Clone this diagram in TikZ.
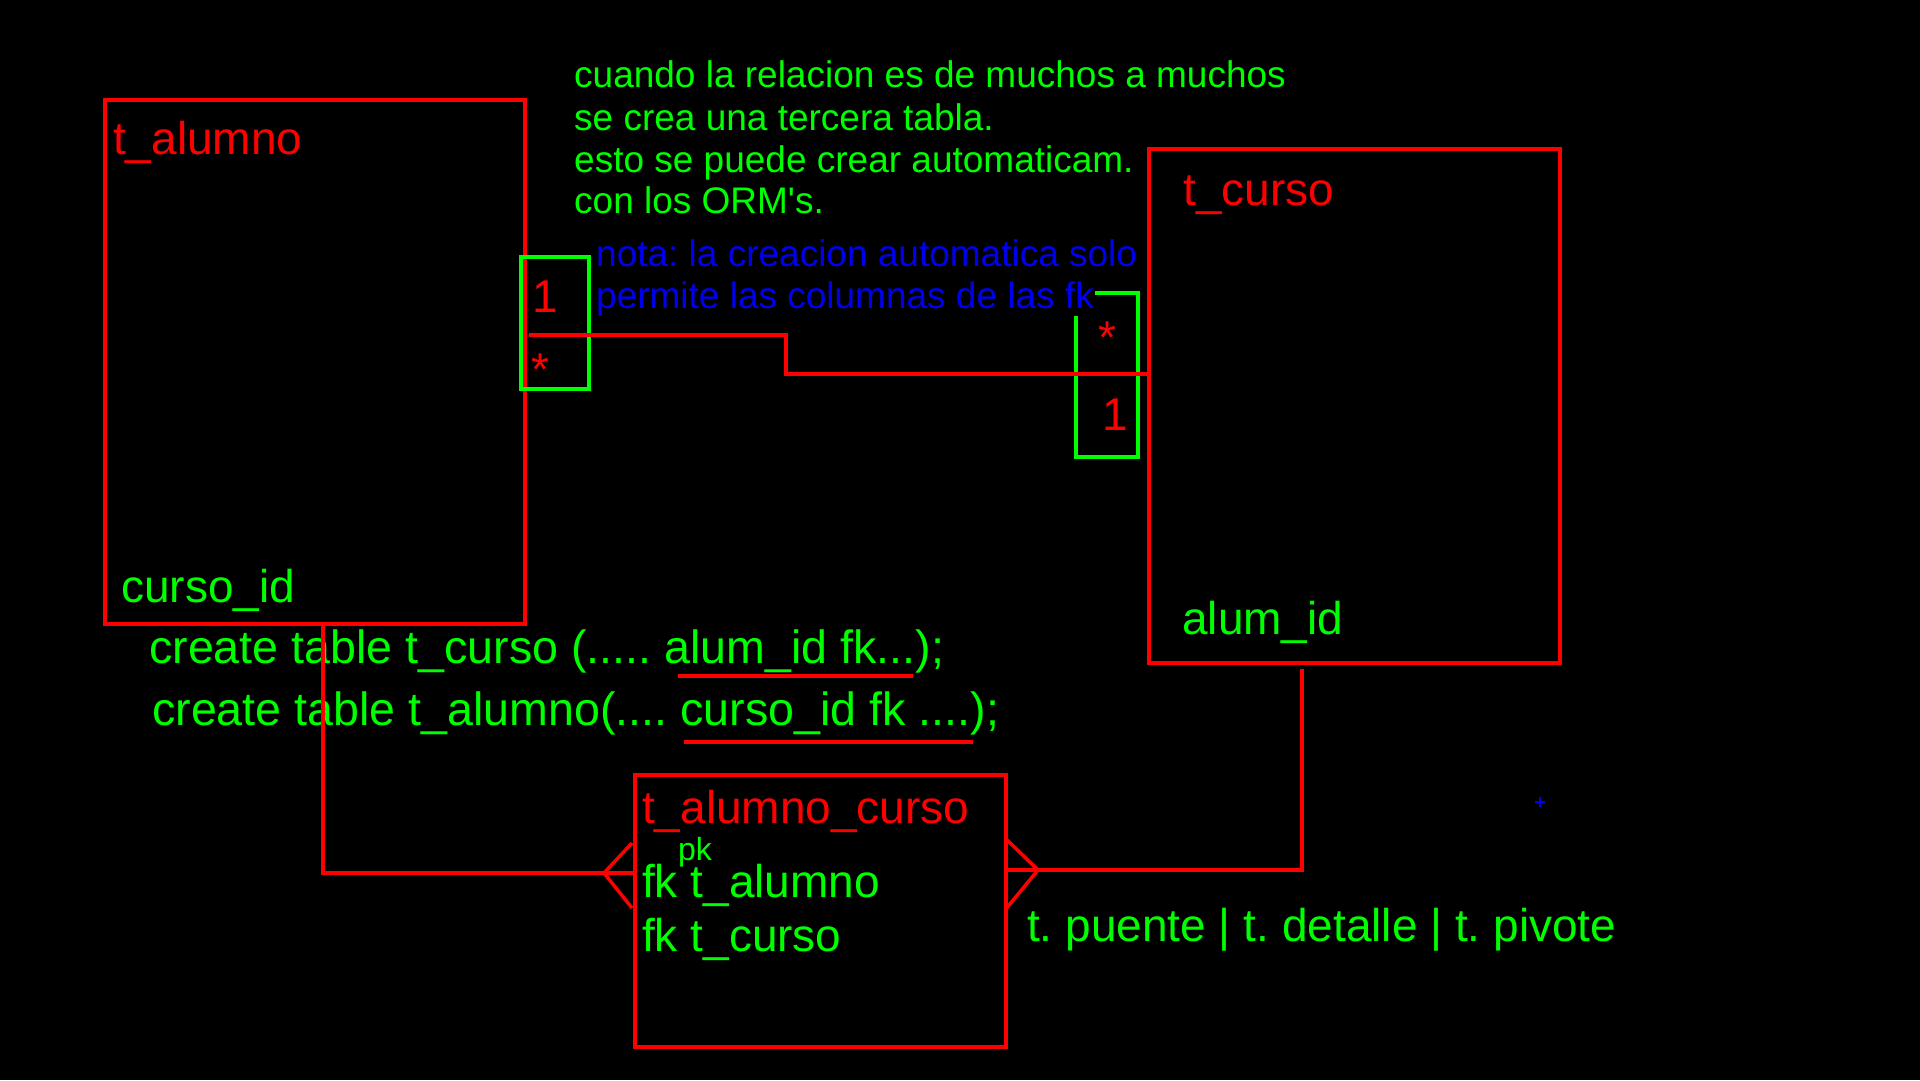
\documentclass[tikz,border=0pt]{standalone}
\usepackage{fontspec}
\setmainfont{Liberation Sans}[Ligatures=TeXOff]
\definecolor{ered}{RGB}{255,0,0}
\definecolor{egreen}{RGB}{0,255,0}
\definecolor{eblue}{RGB}{0,0,240}
\frenchspacing
\begin{document}
\begin{tikzpicture}[x=1pt,y=-1pt,
  tbl/.style={draw=ered, line width=4pt, inner sep=0pt, anchor=north west},
  card/.style={draw=egreen, line width=4pt, inner sep=0pt, anchor=north west},
  rel/.style={draw=ered, line width=3.5pt},
  big/.style={inner sep=0pt, anchor=base west, font=\fontsize{46}{55}\selectfont},
  sql/.style={inner sep=0pt, anchor=base west, font=\fontsize{46.6}{55}\selectfont},
  small/.style={inner sep=0pt, anchor=base west, font=\fontsize{37}{42}\selectfont},
  tiny/.style={inner sep=0pt, anchor=base west, font=\fontsize{32}{38}\selectfont},
]
% canvas
\useasboundingbox (0,0) rectangle (1920,1080);
\fill[black] (0,0) rectangle (1920,1080);

% tables
\node[tbl, minimum width=420pt, minimum height=524pt] (alumno) at (103,98) {};
\node[tbl, minimum width=411pt, minimum height=514pt] (curso) at (1147,147) {};
\node[tbl, minimum width=371pt, minimum height=272pt] (bridge) at (633,773) {};

\node[big, text=ered] (alumnoT) at (113,154) {t\_alumno};
\node[big, text=egreen] (alumnoF) at (121,602) {curso\_id};
\node[big, text=ered] (cursoT) at (1183,205) {t\_curso};
\node[big, text=egreen] (cursoF) at (1182,634) {alum\_id};
\node[big, text=ered] (bridgeT) at (642,823) {t\_alumno\_curso};
\node[tiny, text=egreen] (bridgePk) at (678,860) {pk};
\node[big, text=egreen] (bridgeF1) at (642,897) {fk t\_alumno};
\node[big, text=egreen] (bridgeF2) at (642,951) {fk t\_curso};
\node[big, text=egreen] (alias) at (1027,941) {t. puente | t. detalle | t. pivote};

% notes
\node[small, text=egreen] (n1) at (574,87) {cuando la relacion es de muchos a muchos};
\node[small, text=egreen] (n2) at (574,130) {se crea una tercera tabla.};
\node[small, text=egreen] (n3) at (574,172) {esto se puede crear automaticam.};
\node[small, text=egreen] (n4) at (574,213) {con los ORM's.};
\node[small, text=eblue] (b1) at (596,266) {nota: la creacion automatica solo};
\node[small, text=eblue] (b2) at (596,308) {permite las columnas de las fk};

% sql lines
\node[sql, text=egreen] (sql1) at (149,663) {create table t\_curso (.....\ alum\_id fk...);};
\node[sql, text=egreen] (sql2) at (152,725) {create table t\_alumno(....\ curso\_id fk ....);};
\draw[rel] (678,676) -- (913,676);
\draw[rel] (684,742) -- (973,742);

% cardinality boxes
\node[card, minimum width=68pt, minimum height=132pt] (cardA) at (519,255) {};
\node[big, text=ered] (cardA1) at (532,312) {1};
\node[big, text=ered] (cardAm) at (531,385) {*};
\draw[egreen, line width=4pt] (1095,293) -- (1138,293) -- (1138,457) -- (1076,457) -- (1076,316);
\node[big, text=ered] (cardBm) at (1098,353) {*};
\node[big, text=ered] (cardB1) at (1102,430) {1};

% direct relation
\coordinate (r1a) at (529,335);
\coordinate (r1b) at (786,374);
\draw[rel] (r1a) -| (r1b) -- (r1b -| curso.west);

% relation alumno -> bridge
\coordinate (r2a) at (323,626);
\coordinate (r2b) at (323,873);
\draw[rel] (r2a) -- (r2b) -- (r2b -| bridge.west);
\draw[rel] (632,843) -- (604,873) -- (632,908);

% relation curso -> bridge
\coordinate (r3a) at (1302,669);
\coordinate (r3b) at (1302,870);
\draw[rel] (r3a) -- (r3b) -- (r3b -| bridge.east);
\draw[rel] (1005,838) -- (1038,870) -- (1005,910);

% stray mark
\draw[eblue, line width=2pt] (1535,802) -- (1545,802) (1540,797) -- (1540,807);
\end{tikzpicture}
\end{document}
